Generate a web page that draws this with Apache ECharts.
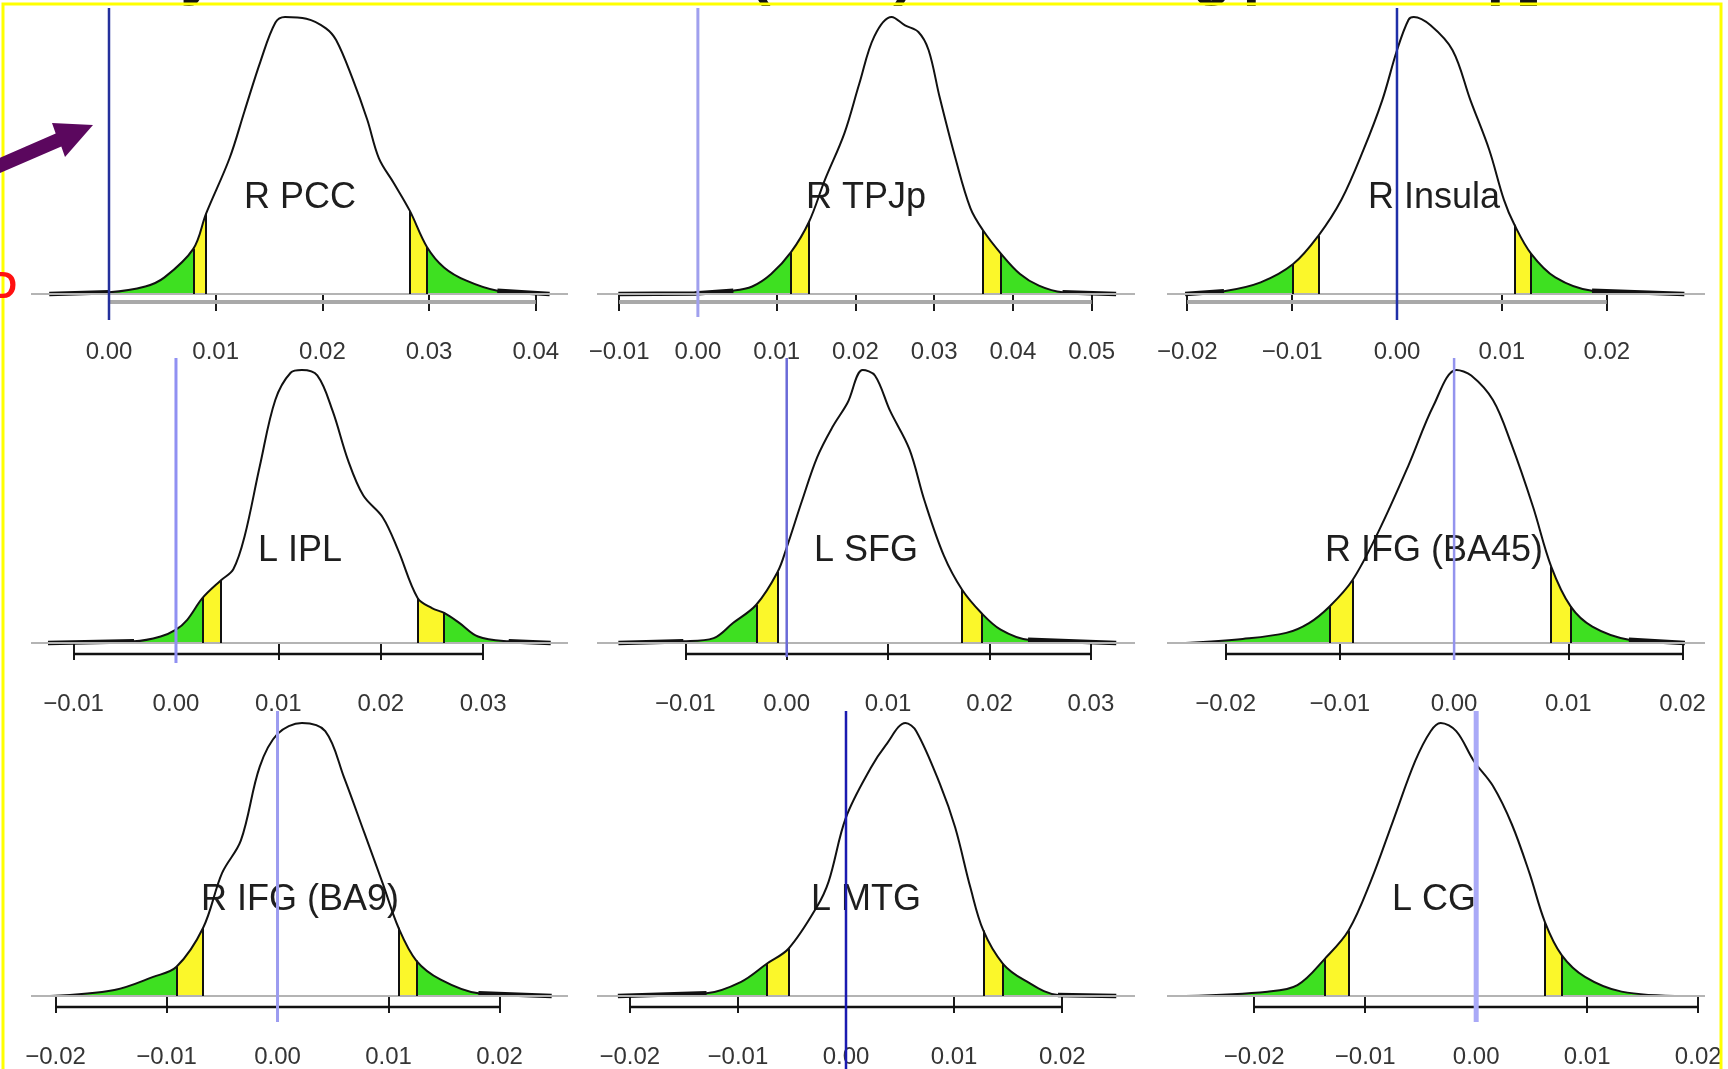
<!DOCTYPE html>
<html>
<head>
<meta charset="utf-8">
<title>Posterior densities by region</title>
<script src="https://cdn.jsdelivr.net/npm/echarts@6/dist/echarts.min.js"></script>
<style>
  html, body { margin: 0; padding: 0; background: #fff; }
  #main { width: 1728px; height: 1069px; }
</style>
</head>
<body>
<div id="main"></div>
<script>
// region names, one per panel (row by row)
var regions = ['R PCC', 'R TPJp', 'R Insula', 'L IPL', 'L SFG', 'R IFG (BA45)', 'R IFG (BA9)', 'L MTG', 'L CG'];

// density curves [value, relative height]
var rPCC = [[-0.0056,0],[0,0.6],[0.0034,2.7],[0.0052,6],[0.0113,49],[0.0127,66],[0.0142,84],[0.0156,98],[0.0165,100],[0.0185,99.4],[0.0203,96],[0.0213,91.6],[0.0228,78],[0.0242,63],[0.0253,49],[0.0267,40],[0.0314,9.6],[0.0335,4.8],[0.0364,1.2],[0.0413,0]];
var rTPJp = [[-0.0101,0],[-0.0004,0.2],[0.0045,1.2],[0.0069,2.7],[0.0093,7.2],[0.0161,41],[0.0186,58],[0.0205,76],[0.0224,93],[0.0246,100],[0.0263,97],[0.0280,94.6],[0.0293,88],[0.0307,71],[0.0327,49],[0.0346,31],[0.0409,7.2],[0.0433,3],[0.0463,0.6],[0.0531,0]];
var rInsula = [[-0.0202,0],[-0.0165,1],[-0.0130,4.2],[-0.0053,34],[-0.0032,52],[-0.0014,70],[0,88],[0.0011,99],[0.0016,100],[0.0032,97],[0.0053,88],[0.0070,70],[0.0088,52],[0.0102,34],[0.0151,6],[0.0186,1.2],[0.0274,0]];
var lIPL = [[-0.0125,0],[-0.0041,0.6],[-0.0015,2.4],[0,4.9],[0.0011,8.5],[0.0056,27],[0.0067,39],[0.0082,65],[0.0097,89],[0.0112,99],[0.0123,100],[0.0138,98],[0.0153,85],[0.0168,67],[0.0183,54],[0.0202,46],[0.0217,34],[0.0250,12.8],[0.0277,7.3],[0.0295,2.4],[0.0325,0.6],[0.0366,0]];
var lSFG = [[-0.0166,0],[-0.0102,0.6],[-0.0072,1.8],[-0.0053,7.3],[0,35],[0.0015,52],[0.0030,68],[0.0045,79],[0.0060,88],[0.0075,100],[0.0087,98],[0.0102,85],[0.0121,71],[0.0136,52],[0.0155,32],[0.0211,4.9],[0.0238,1.2],[0.0325,0]];
var rIFG45 = [[-0.0235,0],[-0.0185,1.5],[-0.0147,3.7],[-0.0127,7.3],[-0.0066,41],[-0.0040,65],[-0.0018,87],[0.0002,100],[0.0015,98],[0.0034,89],[0.0050,73],[0.0069,50],[0.0121,6],[0.0153,1.2],[0.0202,0]];
var rIFG9 = [[-0.0205,0],[-0.0147,2.2],[-0.0112,7],[-0.0050,45],[-0.0033,57],[-0.0016,84],[0,96],[0.0022,100],[0.0043,97],[0.0060,80],[0.0078,60],[0.0095,41],[0.0147,6],[0.0181,1],[0.0247,0]];
var lMTG = [[-0.0211,0],[-0.0129,1],[-0.0097,5.2],[-0.0027,32.6],[-0.0016,42],[0,65.4],[0.0023,83.6],[0.0037,92],[0.0055,100],[0.0065,97],[0.0087,77.5],[0.0101,61.7],[0.0115,39.8],[0.0165,5.8],[0.0196,0.4],[0.0250,0]];
var lCG = [[-0.0262,0],[-0.0188,1.6],[-0.0161,4],[-0.0095,42],[-0.0075,64],[-0.0055,86],[-0.0041,97],[-0.0032,100],[-0.0018,97],[-0.0002,86],[0.0015,77],[0.0032,63],[0.0048,45],[0.0098,7],[0.0131,1.6],[0.0188,0]];

// interval limits (outer, inner, inner, outer) with curve height there
var cutsPCC = [[0.0079,16.3],[0.0091,29],[0.0282,30],[0.0298,17]];
var cutsTPJp = [[0.0118,15],[0.0141,26],[0.0362,23],[0.0385,14.5]];
var cutsInsula = [[-0.0099,10.8],[-0.0075,21],[0.0112,25],[0.0128,14.5]];
var cutsIPL = [[0.0026,16.5],[0.0044,23],[0.0236,16.5],[0.0262,11]];
var cutsSFG = [[-0.0030,14],[-0.0009,26],[0.0173,19.5],[0.0192,11]];
var cutsIFG45 = [[-0.0109,13.4],[-0.0089,23],[0.0085,28],[0.0102,13.4]];
var cutsIFG9 = [[-0.0091,10.7],[-0.0067,25],[0.0109,25],[0.0125,13]];
var cutsMTG = [[-0.0073,11.9],[-0.0053,17.4],[0.0127,24],[0.0145,11.9]];
var cutsCG = [[-0.0136,13.8],[-0.0115,24],[0.0062,27],[0.0077,15]];

// tick labels
var ticksPCC = [0, 0.01, 0.02, 0.03, 0.04];
var ticksTPJp = [-0.01, 0, 0.01, 0.02, 0.03, 0.04, 0.05];
var ticksInsula = [-0.02, -0.01, 0, 0.01, 0.02];
var ticksIPL = [-0.01, 0, 0.01, 0.02, 0.03];
var ticksSFG = [-0.01, 0, 0.01, 0.02, 0.03];
var ticksIFG45 = [-0.02, -0.01, 0, 0.01, 0.02];
var ticksIFG9 = [-0.02, -0.01, 0, 0.01, 0.02];
var ticksMTG = [-0.02, -0.01, 0, 0.01, 0.02];
var ticksCG = [-0.02, -0.01, 0, 0.01, 0.02];

var curves = [rPCC, rTPJp, rInsula, lIPL, lSFG, rIFG45, rIFG9, lMTG, lCG];
var cuts = [cutsPCC, cutsTPJp, cutsInsula, cutsIPL, cutsSFG, cutsIFG45, cutsIFG9, cutsMTG, cutsCG];
var ticks = [ticksPCC, ticksTPJp, ticksInsula, ticksIPL, ticksSFG, ticksIFG45, ticksIFG9, ticksMTG, ticksCG];

// layout (pixels) and axis ranges
var colLeft = [31, 597, 1167];
var colWidth = [537, 538, 538];
var colCenter = [300, 866, 1434];
var rowBase = [294, 643, 996];
var rowGap = [8, 11, 11];
var rowPx100 = [277, 273, 273];
var rowTop = [8, 358, 711];
var rowTitleY = [198, 551, 900];
var xRange = [[-0.00731, 0.04302], [-0.01281, 0.05550], [-0.02193, 0.02937],
              [-0.01416, 0.03829], [-0.01871, 0.03435], [-0.02513, 0.02196],
              [-0.02221, 0.02617], [-0.02303, 0.02673], [-0.02785, 0.02061]];
// zero line per panel: colour, width, lower end (px)
var zeroLine = [
  { color: '#24309c', width: 2.5, bottom: 320 },
  { color: '#a0a0ee', width: 3, bottom: 317 },
  { color: '#1f2fa8', width: 2.5, bottom: 320 },
  { color: '#9090f2', width: 3, bottom: 663 },
  { color: '#6a6ad8', width: 2.5, bottom: 657 },
  { color: '#9494ee', width: 2.5, bottom: 660 },
  { color: '#9c9cf0', width: 3, bottom: 1022 },
  { color: '#1a1ab0', width: 2.5, bottom: 1069 },
  { color: '#a9a9f7', width: 5, bottom: 1022 }
];

var GREEN = '#3ee021';
var YELLOW = '#fbf72a';

function fmt(v) {
  var s = Math.abs(v).toFixed(2);
  return (v < -1e-9 ? '\u2212' : '') + s;
}

var grids = [], xAxes = [], yAxes = [], series = [], tailSeries = [], visualMaps = [], graphics = [];

regions.forEach(function (name, i) {
  var row = Math.floor(i / 3), col = i % 3;
  var base = rowBase[row], px = rowPx100[row];
  var yMax = (base - rowTop[row]) / px * 100;
  var yMin = -rowGap[row] / px * 100;
  var tk = ticks[i];
  var c = cuts[i];

  grids.push({ left: colLeft[col], width: colWidth[col], top: rowTop[row], height: base - rowTop[row] + rowGap[row] });

  xAxes.push({
    gridIndex: i, type: 'value', min: xRange[i][0], max: xRange[i][1],
    axisLine: { show: false },
    splitLine: { show: false },
    axisTick: { show: true, customValues: tk, length: 17, lineStyle: { color: '#1a1a1a', width: 2 } },
    axisLabel: { show: true, customValues: tk, margin: 38, fontSize: 24, fontFamily: 'Liberation Sans', color: '#353535', formatter: fmt }
  });
  yAxes.push({ gridIndex: i, type: 'value', min: yMin, max: yMax, show: false });

  var data = curves[i].concat(c).sort(function (a, b) { return a[0] - b[0]; });

  // filled tails (coloured by x through visualMap)
  series.push({
    type: 'line', xAxisIndex: i, yAxisIndex: i, data: data, smooth: 0.35,
    symbol: 'none', silent: true, z: 2,
    lineStyle: { width: 0 },
    areaStyle: { opacity: 1 }
  });
  // density outline, baseline and interval limits
  series.push({
    type: 'line', xAxisIndex: i, yAxisIndex: i, data: data, smooth: 0.35,
    symbol: 'none', silent: true, z: 4,
    lineStyle: { color: '#111', width: 2 },
    markLine: {
      silent: true, symbol: ['none', 'none'], label: { show: false },
      lineStyle: { color: '#111', width: 2, type: 'solid' },
      data: [{ yAxis: 0, lineStyle: { color: '#b4b4b4', width: 2, type: 'solid' } }].concat(
        c.map(function (p) { return [{ coord: [p[0], 0] }, { coord: [p[0], p[1]] }]; }))
    }
  });
  // axis line between first and last tick
  series.push({
    type: 'line', xAxisIndex: i, yAxisIndex: i, clip: false, silent: true, symbol: 'none', z: 3,
    data: [[tk[0], yMin], [tk[tk.length - 1], yMin]],
    lineStyle: { color: row === 0 ? '#a9a9a9' : '#111', width: row === 0 ? 4 : 2.5 }
  });
  // vertical line at zero
  var zl = zeroLine[i];
  series.push({
    type: 'line', xAxisIndex: i, yAxisIndex: i, clip: false, silent: true, symbol: 'none', z: 5,
    data: [[0, yMax], [0, (base - zl.bottom) / px * 100]],
    lineStyle: { color: zl.color, width: zl.width }
  });

  // heavier stroke where the density lies on the baseline
  var left = [], right = [], k;
  for (k = 0; k < data.length && data[k][1] <= 1.3; k++) left.push(data[k]);
  for (k = data.length - 1; k >= 0 && data[k][1] <= 1.3; k--) right.unshift(data[k]);
  [left, right].forEach(function (seg) {
    tailSeries.push({
      type: 'line', xAxisIndex: i, yAxisIndex: i, data: seg, symbol: 'none', silent: true, z: 4,
      lineStyle: { color: '#111', width: 4.5 }
    });
  });

  visualMaps.push({
    show: false, type: 'piecewise', dimension: 0, seriesIndex: i * 4,
    pieces: [
      { lt: c[0][0], color: GREEN },
      { gte: c[0][0], lt: c[1][0], color: YELLOW },
      { gte: c[1][0], lt: c[2][0], color: 'rgba(255,255,255,0)' },
      { gte: c[2][0], lt: c[3][0], color: YELLOW },
      { gte: c[3][0], color: GREEN }
    ]
  });

  graphics.push({
    type: 'text', x: colCenter[col], y: rowTitleY[row], z: 1, silent: true,
    style: { text: name, font: '36px "Liberation Sans"', fill: '#1e1e1e',
             align: 'center', verticalAlign: 'middle', textAlign: 'center', textVerticalAlign: 'middle' }
  });
});

series = series.concat(tailSeries);

// slide decorations: cut-off heading letters, frame, arrow
[['y', 198], ['(', 760], [')', 904], ['g', 1212], ['p', 1262], ['p', 1506], [']', 1530]].forEach(function (g) {
  graphics.push({
    type: 'text', x: g[1], y: -25, z: 9, silent: true,
    style: { text: g[0], font: 'bold 64px "Liberation Sans"', fill: '#111',
             align: 'center', verticalAlign: 'middle', textAlign: 'center', textVerticalAlign: 'middle' }
  });
});
graphics.push({
  type: 'rect', z: 10, silent: true,
  shape: { x: 3, y: 4, width: 1718, height: 1100 },
  style: { fill: 'rgba(0,0,0,0)', stroke: '#ffff00', lineWidth: 3 }
});
graphics.push({
  type: 'polygon', z: 10, silent: true,
  shape: { points: [[-5, 160], [55.7, 133.6], [52, 123], [93, 125], [65, 157], [61.3, 146.4], [-5, 175.2]] },
  style: { fill: '#5b075e' }
});
graphics.push({
  type: 'text', x: 17, y: 288, z: 10, silent: true,
  style: { text: 'D', font: 'bold 36px "Liberation Sans"', fill: '#ff1010',
           align: 'right', verticalAlign: 'middle', textAlign: 'right', textVerticalAlign: 'middle' }
});

var chart = echarts.init(document.getElementById('main'), null, { renderer: 'canvas' });
chart.setOption({
  backgroundColor: '#ffffff',
  animation: false,
  grid: grids,
  xAxis: xAxes,
  yAxis: yAxes,
  visualMap: visualMaps,
  series: series,
  graphic: graphics
});
</script>
</body>
</html>
